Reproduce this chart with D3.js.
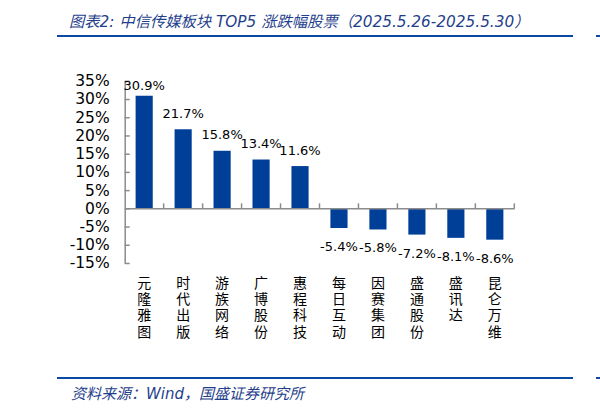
<!DOCTYPE html>
<html>
<head>
<meta charset="utf-8">
<script src="https://cdn.jsdelivr.net/npm/d3@7"></script>
<style>
  body { margin: 0; background: #fff; }
  svg { display: block; }
</style>
</head>
<body>
<div id="chart"></div>
<script>
// data
const stocks = ["元隆雅图", "时代出版", "游族网络", "广博股份", "惠程科技",
                "每日互动", "因赛集团", "盛通股份", "盛讯达", "昆仑万维"];
const changes = [30.9, 21.7, 15.8, 13.4, 11.6, -5.4, -5.8, -7.2, -8.1, -8.6];
const yTicks = [-15, -10, -5, 0, 5, 10, 15, 20, 25, 30, 35];

const titleText = "图表2:  中信传媒板块 TOP5 涨跌幅股票（2025.5.26-2025.5.30）";
const sourceText = "资料来源：Wind，国盛证券研究所";

const width = 600, height = 410;
const svg = d3.select("#chart").append("svg")
  .attr("width", width).attr("height", height);

const blue = "#0a4aa2";
const barColor = "#003f98";
const axisColor = "#8c8c8c";
const numFont = "DejaVu Sans, Verdana, sans-serif";
const cjkFont = "Noto Sans CJK SC, sans-serif";

// title + rules
svg.append("text")
  .attr("x", 69).attr("y", 27)
  .style("font-family", "DejaVu Sans, Noto Sans CJK SC, sans-serif")
  .style("font-style", "italic")
  .style("font-size", "15.3px")
  .style("fill", "#1f3f8c")
  .text(titleText);

[36, 378].forEach(y => {
  svg.append("line").attr("x1", 57).attr("x2", 573).attr("y1", y).attr("y2", y)
    .attr("stroke", blue).attr("stroke-width", 2);
  svg.append("line").attr("x1", 596).attr("x2", 600).attr("y1", y).attr("y2", y)
    .attr("stroke", blue).attr("stroke-width", 2);
});

svg.append("text")
  .attr("x", 71).attr("y", 399)
  .style("font-family", "DejaVu Sans, Noto Sans CJK SC, sans-serif")
  .style("font-style", "italic")
  .style("font-size", "15px")
  .style("fill", "#1f3f8c")
  .text(sourceText);

// scales
const x = d3.scaleBand().domain(stocks).range([124.7, 514.3]).padding(0);
const y = d3.scaleLinear().domain([-15, 35]).range([263, 80.8]);
const barW = x.bandwidth() * 0.44;

// y axis
const yAxis = svg.append("g")
  .attr("transform", "translate(124.7,0)")
  .call(d3.axisLeft(y).tickValues(yTicks).tickSize(-5).tickSizeOuter(0).tickPadding(15)
    .tickFormat(d => d + "%"));
yAxis.select(".domain").attr("stroke", axisColor).attr("stroke-width", 1.5);
yAxis.selectAll(".tick line").attr("stroke", axisColor).attr("stroke-width", 1.5);
yAxis.selectAll("text")
  .style("font-family", numFont).style("font-size", "15.5px").style("fill", "#000");

// bars
svg.selectAll("rect.bar")
  .data(changes)
  .enter().append("rect")
  .attr("class", "bar")
  .attr("x", (d, i) => x(stocks[i]) + (x.bandwidth() - barW) / 2)
  .attr("y", d => y(Math.max(0, d)))
  .attr("width", barW)
  .attr("height", d => Math.abs(y(d) - y(0)))
  .attr("fill", barColor);

// zero line with category ticks
const xAxis = svg.append("g")
  .attr("transform", "translate(0," + y(0) + ")")
  .call(d3.axisBottom(x).tickSize(0).tickFormat(""));
xAxis.select(".domain").attr("stroke", axisColor).attr("stroke-width", 1.5);
xAxis.selectAll(".tick").remove();
svg.selectAll("line.cattick")
  .data(stocks)
  .enter().append("line")
  .attr("class", "cattick")
  .attr("x1", d => x(d) + x.bandwidth())
  .attr("x2", d => x(d) + x.bandwidth())
  .attr("y1", y(0)).attr("y2", y(0) - 5)
  .attr("stroke", axisColor).attr("stroke-width", 1.5);

// value labels
svg.selectAll("text.val")
  .data(changes)
  .enter().append("text")
  .attr("class", "val")
  .attr("x", (d, i) => x(stocks[i]) + x.bandwidth() / 2)
  .attr("y", d => d >= 0 ? Math.max(y(d) - 11.5, y(35) + 9.5) : y(d) + 23)
  .attr("text-anchor", "middle")
  .style("font-family", numFont)
  .style("font-size", "13px")
  .style("fill", "#000")
  .text(d => d.toFixed(1) + "%");

// vertical category labels, one character per line
const catG = svg.selectAll("g.cat")
  .data(stocks)
  .enter().append("g")
  .attr("class", "cat")
  .attr("transform", d => "translate(" + (x(d) + x.bandwidth() / 2) + ",0)");
catG.selectAll("text")
  .data(d => Array.from(d))
  .enter().append("text")
  .attr("x", 0)
  .attr("y", (c, j) => 281.7 + j * 16.3)
  .attr("text-anchor", "middle")
  .attr("dominant-baseline", "central")
  .style("font-family", cjkFont)
  .style("font-size", "14px")
  .style("fill", "#000")
  .text(c => c);
</script>
</body>
</html>
